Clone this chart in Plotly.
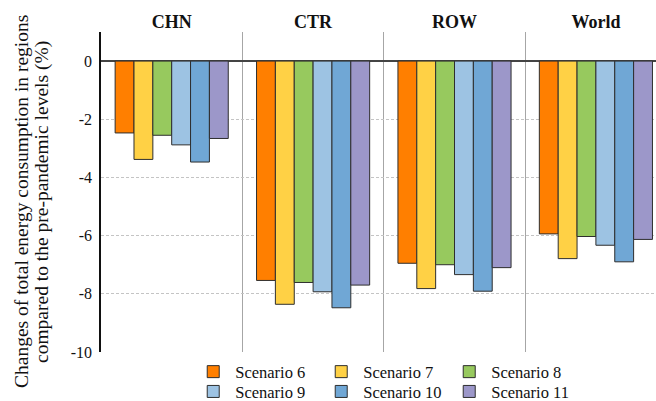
import plotly.graph_objects as go

regions = ["CHN", "CTR", "ROW", "World"]
scenarios = ["Scenario 6", "Scenario 7", "Scenario 8", "Scenario 9", "Scenario 10", "Scenario 11"]
s6 = [-2.47, -7.54, -6.95, -5.94]
s7 = [-3.38, -8.36, -7.82, -6.79]
s8 = [-2.55, -7.61, -7.00, -6.03]
s9 = [-2.88, -7.93, -7.34, -6.33]
s10 = [-3.47, -8.48, -7.91, -6.90]
s11 = [-2.66, -7.70, -7.10, -6.13]
values = [s6, s7, s8, s9, s10, s11]
colors = ["#FF7F00", "#FFD145", "#97C95E", "#9DC3E3", "#70A7D5", "#9C97C9"]
y_ticks = [0, -2, -4, -6, -8, -10]
title_lines = ["Changes of total energy consumption in regions",
               "compared to the pre-pandemic levels (%)"]

FONT = "Liberation Serif, Times New Roman, Times, serif"
W, H = 656, 401
ML, MR, MT, MB = 101, 0, 32, 49
PW, PH = W - ML - MR, H - MT - MB

fig = go.Figure()
for i, (name, vals, col) in enumerate(zip(scenarios, values, colors)):
    fig.add_trace(go.Bar(
        x=regions, y=vals, name=name,
        marker=dict(color=col, line=dict(color="#2e2e2e", width=1)),
        legend="legend" if i < 3 else "legend2",
    ))

legend_common = dict(
    orientation="h", font=dict(family=FONT, size=16.5, color="#111111"),
    entrywidth=79, entrywidthmode="pixels", itemwidth=34,
    xanchor="left", yanchor="top", xref="container", yref="container",
    bgcolor="rgba(0,0,0,0)", tracegroupgap=0, itemclick=False,
)

# rotated two-line y-axis title (one annotation per line)
for j, (txt, xc) in enumerate(zip(title_lines, [21, 42])):
    fig.add_annotation(
        text=txt, textangle=-90, showarrow=False,
        xref="paper", yref="paper",
        x=(xc - ML) / PW, y=(H - MB - 202) / PH,
        xanchor="center", yanchor="middle",
        font=dict(family=FONT, size=19.5, color="#111111"),
    )

fig.update_layout(
    width=W, height=H,
    margin=dict(l=ML, r=MR, t=MT, b=MB, autoexpand=False),
    paper_bgcolor="white", plot_bgcolor="white",
    barmode="group", bargap=0.2, bargroupgap=0,
    font=dict(family=FONT, color="#111111"),
    legend=dict(x=0.2915, y=0.1162, **legend_common),
    legend2=dict(x=0.2915, y=0.0668, **legend_common),
    xaxis=dict(
        side="top", type="category", range=[-0.5, 3.425],
        tickson="boundaries", ticks="", showgrid=True, gridcolor="#a6a6a6", gridwidth=1,
        showline=False, zeroline=False,
        tickfont=dict(family=FONT, size=18, weight="bold", color="#111111"),
        ticklabelstandoff=-1,
    ),
    yaxis=dict(
        range=[-10, 1], tickvals=y_ticks, ticktext=[str(v) for v in y_ticks],
        showgrid=True, gridcolor="#c4c4c4", griddash="3px,2px", gridwidth=1,
        zeroline=True, zerolinecolor="#444444", zerolinewidth=1.5,
        showline=True, linecolor="#111111", linewidth=1.5, ticks="",
        tickfont=dict(family=FONT, size=16, color="#111111"),
        ticklabelstandoff=4,
    ),
)

fig.write_html("out.html", config={"displayModeBar": False},
               post_script="document.body.style.margin='0';")
